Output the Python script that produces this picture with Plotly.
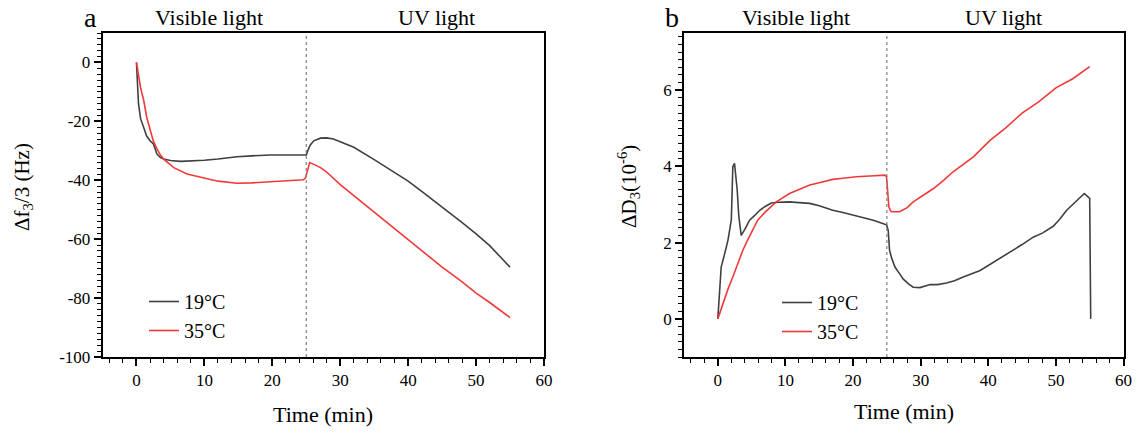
import plotly.graph_objects as go

# ---- Data: panel a (Δf3/3, Hz) ----
t_a19 = [0, 0.15, 0.3, 0.6, 1.0, 1.5, 2.0, 2.5, 3.0, 3.5, 4.0, 5.0, 6.5, 8.0, 10, 12, 14.8, 17, 19.7, 22, 24.6, 25,
         25.3, 25.6, 26.1, 27.1, 28, 29, 30, 32, 35, 38, 40, 42, 45, 48, 50, 52, 55]
f_a19 = [0, -8, -14, -19, -22, -25, -26.6, -27.7, -31.0, -32.2, -32.8, -33.3, -33.6, -33.5, -33.2, -32.8, -32.0,
         -31.7, -31.4, -31.4, -31.4, -31.4, -29.5, -28.0, -26.6, -25.7, -25.6, -26.0, -26.9, -28.8, -33.0,
         -37.3, -40.3, -43.8, -49.0, -54.5, -58.2, -62.2, -69.5]
t_a35 = [0, 0.3, 0.6, 1.08, 1.5, 2.06, 2.5, 3.04, 3.5, 4.0, 5.5, 7.45, 10.4, 12, 14.8, 17, 19.7, 22, 24.6, 24.9,
         25.2, 25.5, 26.1, 27.1, 28, 30, 32, 35, 38, 40, 42, 45, 48, 50, 52, 55]
f_a35 = [0, -4.5, -8.5, -13, -18.5, -23.2, -26.8, -29.4, -31.3, -32.8, -35.7, -37.9, -39.6, -40.3, -41.0, -40.9,
         -40.5, -40.2, -39.8, -39.2, -36.5, -34.0, -34.6, -35.7, -37.2, -41.5, -45.2, -50.8, -56.5, -60.2, -63.8,
         -69.5, -74.6, -78.3, -81.5, -86.6]

# ---- Data: panel b (ΔD3, 1e-6) ----
t_b19 = [0, 0.5, 1.0, 1.5, 2.0, 2.22, 2.47, 2.7, 2.87, 3.1, 3.46, 4.0, 4.7, 5.5, 6.2, 7.0, 7.9, 9.0, 10.6, 12,
         13.6, 15, 17, 18.5, 20, 21.5, 23, 24.7, 24.95, 25.2, 25.4, 25.7, 26.2, 26.9, 27.4, 28.2, 28.9, 29.9,
         31.4, 32.5, 33.8, 35, 36.3, 38.8, 41.2, 43.7, 45, 46.7, 48, 49.6, 50.5, 51.6, 53.1, 54.2, 55.0, 55.15]
d_b19 = [0, 1.36, 1.7, 2.06, 2.6, 3.99, 4.08, 3.75, 3.38, 2.7, 2.19, 2.35, 2.59, 2.72, 2.85, 2.95, 3.04, 3.06,
         3.07, 3.05, 3.03, 2.97, 2.85, 2.79, 2.72, 2.66, 2.59, 2.48, 2.47, 2.32, 1.8, 1.6, 1.36, 1.18, 1.05,
         0.92, 0.83, 0.82, 0.9, 0.9, 0.94, 1.0, 1.1, 1.27, 1.53, 1.8, 1.95, 2.15, 2.25, 2.43, 2.6, 2.85, 3.11,
         3.29, 3.16, 0]
t_b35 = [0, 0.5, 1.0, 1.5, 2.22, 3.0, 3.7, 4.5, 5.2, 5.9, 7.0, 8.65, 10.6, 12, 13.6, 15, 17, 18.5, 20.5, 22.5,
         24.7, 24.95, 25.3, 25.5, 25.7, 26.9, 28.0, 28.9, 30.5, 31.9, 33.3, 34.8, 37.8, 40.3, 42.5, 45, 47.5,
         50, 52.5, 55]
d_b35 = [0, 0.27, 0.52, 0.78, 1.1, 1.47, 1.8, 2.1, 2.36, 2.59, 2.8, 3.07, 3.29, 3.4, 3.51, 3.57, 3.66, 3.69,
         3.73, 3.75, 3.77, 3.73, 2.94, 2.85, 2.81, 2.81, 2.92, 3.07, 3.25, 3.42, 3.62, 3.86, 4.25, 4.69, 5.0,
         5.4, 5.7, 6.06, 6.3, 6.62]

labels = ["19°C", "35°C"]
colors = ["#404040", "#f03a3a"]

x_tickvals = [0, 10, 20, 30, 40, 50, 60]
x_ticktext = ["0", "10", "20", "30", "40", "50", "60"]
ya_tickvals = [0, -20, -40, -60, -80, -100]
ya_ticktext = ["0", "-20", "-40", "-60", "-80", "-100"]
yb_tickvals = [0, 2, 4, 6]
yb_ticktext = ["0", "2", "4", "6"]

FONT = "Liberation Serif"
W, H = 1138, 433


def fx(p):
    return p / W


def fy(p):
    return 1 - p / H


fig = go.Figure()
fig.add_trace(go.Scatter(x=t_a19, y=f_a19, mode="lines", name=labels[0], line=dict(color=colors[0], width=1.6),
                         xaxis="x", yaxis="y", legend="legend"))
fig.add_trace(go.Scatter(x=t_a35, y=f_a35, mode="lines", name=labels[1], line=dict(color=colors[1], width=1.6),
                         xaxis="x", yaxis="y", legend="legend"))
fig.add_trace(go.Scatter(x=t_b19, y=d_b19, mode="lines", name=labels[0], line=dict(color=colors[0], width=1.6),
                         xaxis="x2", yaxis="y2", legend="legend2"))
fig.add_trace(go.Scatter(x=t_b35, y=d_b35, mode="lines", name=labels[1], line=dict(color=colors[1], width=1.6),
                         xaxis="x2", yaxis="y2", legend="legend2"))

ydom = [fy(357), fy(33)]
axis_common = dict(showline=True, linecolor="black", linewidth=1.5, mirror=True, ticks="outside",
                   ticklen=7, tickwidth=1.5, tickcolor="black", showgrid=False, zeroline=False,
                   automargin=False, tickfont=dict(family=FONT, size=17, color="black"))
minor_common = dict(ticks="outside", ticklen=4, tickwidth=1.2, tickcolor="black", showgrid=False)

xa = dict(axis_common, range=[-5, 60], tickmode="array", tickvals=x_tickvals, ticktext=x_ticktext,
          minor=dict(minor_common, dtick=2, tick0=0))

fig.update_layout(
    width=W, height=H,
    margin=dict(l=0, r=0, t=0, b=0, autoexpand=False),
    paper_bgcolor="white", plot_bgcolor="white",
    showlegend=True,
    xaxis=dict(xa, domain=[fx(102.5), fx(544)], anchor="y"),
    yaxis=dict(axis_common, domain=ydom, anchor="x", range=[-100, 10], tickmode="array",
               tickvals=ya_tickvals, ticktext=ya_ticktext, minor=dict(minor_common, dtick=2, tick0=0)),
    xaxis2=dict(xa, domain=[fx(684), fx(1123.5)], anchor="y2"),
    yaxis2=dict(axis_common, domain=ydom, anchor="x2", range=[-1, 7.5], tickmode="array",
                tickvals=yb_tickvals, ticktext=yb_ticktext, minor=dict(minor_common, dtick=0.2, tick0=0)),
    legend=dict(x=fx(144), y=fy(282), xanchor="left", yanchor="top", bgcolor="rgba(0,0,0,0)",
                font=dict(family=FONT, size=20, color="black"), itemwidth=30, tracegroupgap=0),
    legend2=dict(x=fx(777), y=fy(283), xanchor="left", yanchor="top", bgcolor="rgba(0,0,0,0)",
                 font=dict(family=FONT, size=20, color="black"), itemwidth=30, tracegroupgap=0),
)

# vertical dotted separators at t = 25
for xr, yr in [("x", "y"), ("x2", "y2")]:
    fig.add_shape(type="line", xref=xr, yref=f"{yr} domain", x0=25, x1=25, y0=0, y1=1,
                  line=dict(color="#808080", width=1.2, dash="dot"))

# panel labels, region labels, axis titles
ann = [
    ("a", 90, 17, 28, 0), ("Visible light", 209, 17, 22, 0), ("UV light", 436, 17, 22, 0),
    ("b", 672, 17, 28, 0), ("Visible light", 796, 17, 22, 0), ("UV light", 1003, 17, 22, 0),
    ("Time (min)", 323, 414, 22, 0), ("Time (min)", 904, 411, 22, 0),
    ("Δf<sub>3</sub>/3 (Hz)", 23, 187, 21, -90), ("ΔD<sub>3</sub>(10<sup>-6</sup>)", 628, 187, 21, -90),
]
for text, px, py, size, rot in ann:
    fig.add_annotation(text=text, x=fx(px), y=fy(py), xref="paper", yref="paper",
                       showarrow=False, xanchor="center", yanchor="middle", textangle=rot,
                       font=dict(family=FONT, size=size, color="black"))

# remove the browser's default page margin so the figure fills the window exactly
fig.write_html("out.html", config={"displayModeBar": False},
               post_script="document.body.style.margin='0';document.body.style.overflow='hidden';")
